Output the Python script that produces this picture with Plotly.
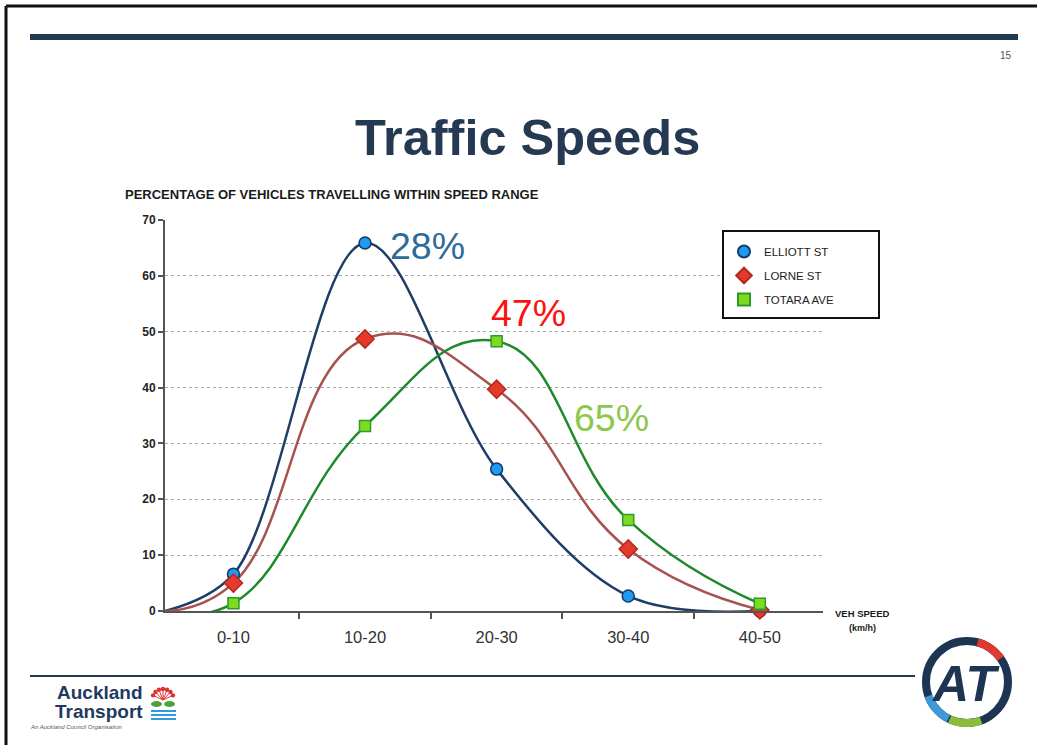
import numpy as np
import plotly.graph_objects as go

W, H = 1037, 745

# --- data -------------------------------------------------------------------
speed_ranges = ["0-10", "10-20", "20-30", "30-40", "40-50"]
elliott_st = [6.6, 65.9, 25.4, 2.7, 0.0]
lorne_st = [5.0, 48.7, 39.7, 11.1, 0.2]
totara_ave = [1.4, 33.1, 48.3, 16.3, 1.3]
# every curve leaves the origin of the axis at zero
curve_start = 0.0
share_labels = ["28%", "47%", "65%"]

NAVY = "#253a52"
FONT = "Liberation Sans, Arial, sans-serif"


def px_x(x):
    return x / W


def px_y(y):
    return 1 - y / H


x_pos = list(range(len(speed_ranges)))
x_start = -0.52

series = [
    ("ELLIOTT ST", elliott_st, "#1f3d66", "circle", "#1e9bf0", "#163a6a", 12, 1.0),
    ("LORNE ST", lorne_st, "#a65350", "diamond", "#e5392b", "#b02a20", 14, 1.3),
    ("TOTARA AVE", totara_ave, "#1f8a2c", "square", "#7ddc22", "#2f9a28", 11, 1.3),
]

fig = go.Figure()

for name, vals, line_col, sym, fill, outline, size, smooth in series:
    fig.add_trace(go.Scatter(
        x=[x_start] + x_pos, y=[curve_start] + vals,
        mode="lines", line=dict(color=line_col, width=2.5, shape="spline", smoothing=smooth),
        showlegend=False, hoverinfo="skip",
    ))

for name, vals, line_col, sym, fill, outline, size, smooth in series:
    fig.add_trace(go.Scatter(
        x=x_pos, y=vals, mode="markers", name=name, cliponaxis=False, legendgroup=name,
        marker=dict(symbol=sym, size=size, color=fill, line=dict(color=outline, width=1.5)),
    ))

fig.update_layout(
    width=W, height=H,
    margin=dict(l=0, r=0, t=0, b=0, autoexpand=False),
    paper_bgcolor="white", plot_bgcolor="white",
    font=dict(family=FONT, color="#333"),
    showlegend=True,
    legend=dict(
        x=px_x(724), y=px_y(237), xanchor="left", yanchor="top",
        borderwidth=0, bgcolor="rgba(0,0,0,0)",
        font=dict(size=11.5, color="#222"),
        itemsizing="constant", traceorder="grouped", tracegroupgap=5,
    ),
    xaxis=dict(
        domain=[px_x(165), px_x(823)], range=[x_start, 4.48], automargin=False,
        tickvals=x_pos, ticktext=speed_ranges, ticks="",
        showgrid=False, zeroline=False,
        showline=True, linecolor="#555", linewidth=2,
        tickfont=dict(size=16.5, color="#333"), ticklabelstandoff=10,
        minor=dict(tickvals=[0.5, 1.5, 2.5, 3.5], ticks="outside", ticklen=6,
                   tickcolor="#555", tickwidth=2, showgrid=False),
    ),
    yaxis=dict(
        domain=[px_y(611), px_y(220)], range=[0, 70], dtick=10, automargin=False,
        showgrid=True, gridcolor="#a8a8a8", griddash="dot", gridwidth=1,
        zeroline=False, showline=True, linecolor="#555", linewidth=2,
        ticks="outside", ticklen=5, tickcolor="#555", tickwidth=1.5,
        tickfont=dict(size=12, color="#222", weight="bold"),
    ),
)

shapes = []
# slide frame
shapes.append(dict(type="line", xref="paper", yref="paper", x0=px_x(6), x1=1, y0=px_y(6), y1=px_y(6),
                   line=dict(color="#111", width=3)))
shapes.append(dict(type="line", xref="paper", yref="paper", x0=px_x(6), x1=px_x(6), y0=px_y(6), y1=0,
                   line=dict(color="#111", width=3)))
# header bar and footer rule
shapes.append(dict(type="rect", xref="paper", yref="paper", x0=px_x(30), x1=px_x(1018),
                   y0=px_y(40), y1=px_y(34), fillcolor="#203a52", line_width=0))
shapes.append(dict(type="line", xref="paper", yref="paper", x0=px_x(30), x1=px_x(915),
                   y0=px_y(676), y1=px_y(676), line=dict(color="#203a52", width=2)))
# legend frame
shapes.append(dict(type="rect", xref="paper", yref="paper", layer="above",
                   x0=px_x(723), x1=px_x(879), y0=px_y(318), y1=px_y(231),
                   fillcolor="white", line=dict(color="#111", width=2)))

# AT roundel
cx, cy, r = 967, 682, 41
shapes.append(dict(type="circle", xref="paper", yref="paper",
                   x0=px_x(cx - r), x1=px_x(cx + r), y0=px_y(cy + r), y1=px_y(cy - r),
                   line=dict(color="#1d3553", width=8)))


def arc_path(a0, a1):
    t = np.radians(np.linspace(a0, a1, 24))
    pts = [(px_x(cx + r * np.cos(a)), px_y(cy - r * np.sin(a))) for a in t]
    return "M " + " L ".join(f"{x:.5f},{y:.5f}" for x, y in pts)


for a0, a1, col in [(35, 75, "#e03a2f"), (245, 290, "#8dbb3a"), (200, 243, "#3d9ad6")]:
    shapes.append(dict(type="path", xref="paper", yref="paper", path=arc_path(a0, a1),
                       line=dict(color=col, width=8)))

# pohutukawa mark next to the Auckland Transport wordmark
fx, fy = 163, 700
for a in np.linspace(25, 155, 7):
    ex = fx + 11 * np.cos(np.radians(a))
    ey = fy - 11 * np.sin(np.radians(a))
    shapes.append(dict(type="line", xref="paper", yref="paper", x0=px_x(fx), y0=px_y(fy),
                       x1=px_x(ex), y1=px_y(ey), line=dict(color="#e23a3a", width=1)))
    shapes.append(dict(type="circle", xref="paper", yref="paper", x0=px_x(ex - 2.2), x1=px_x(ex + 2.2),
                       y0=px_y(ey + 2.2), y1=px_y(ey - 2.2), fillcolor="#e0302e", line_width=0))
for lx0, lx1 in [(151, 162), (164, 175)]:
    shapes.append(dict(type="circle", xref="paper", yref="paper", x0=px_x(lx0), x1=px_x(lx1),
                       y0=px_y(707), y1=px_y(701), fillcolor="#4ba33b", line_width=0))
for wy in [711, 715, 719]:
    shapes.append(dict(type="line", xref="paper", yref="paper", x0=px_x(151), x1=px_x(176),
                       y0=px_y(wy), y1=px_y(wy), line=dict(color="#2f9ad8", width=2)))

fig.update_layout(shapes=shapes)

ann = []


def text(x, y, s, size, color="#222", bold=False, xanchor="center", italic=False):
    if bold:
        s = f"<b>{s}</b>"
    if italic:
        s = f"<i>{s}</i>"
    ann.append(dict(x=px_x(x), y=px_y(y), xref="paper", yref="paper", text=s, showarrow=False,
                    xanchor=xanchor, yanchor="middle", font=dict(size=size, color=color, family=FONT)))


text(527, 137, "Traffic Speeds", 50.5, NAVY, bold=True)
text(1006, 55, "15", 10, "#555")
text(123, 195, "PERCENTAGE OF VEHICLES TRAVELLING WITHIN SPEED RANGE", 13, "#1a1a1a",
     bold=True, xanchor="left")
text(862, 613, "VEH SPEED", 9.5, "#1a1a1a", bold=True)
text(862, 628, "(km/h)", 9, "#1a1a1a", bold=True)

for (lx, ly), s, col in zip([(427, 246), (528, 313), (611, 418)], share_labels,
                            ["#2d6b9a", "#ff1010", "#8cc84b"]):
    text(lx, ly, s, 37.5, col)

text(145, 692, "Auckland", 19, "#1f3a5f", bold=True, xanchor="right")
text(145, 711, "Transport", 19, "#1f3a5f", bold=True, xanchor="right")
text(28, 727, "An Auckland Council Organisation", 6, "#555", italic=True, xanchor="left")
text(965, 684, "AT", 50, "#1d3553", bold=True, italic=True)

fig.update_layout(annotations=ann)

fig.write_html("out.html", config={"displayModeBar": False},
               post_script="document.body.style.margin = '0';")
